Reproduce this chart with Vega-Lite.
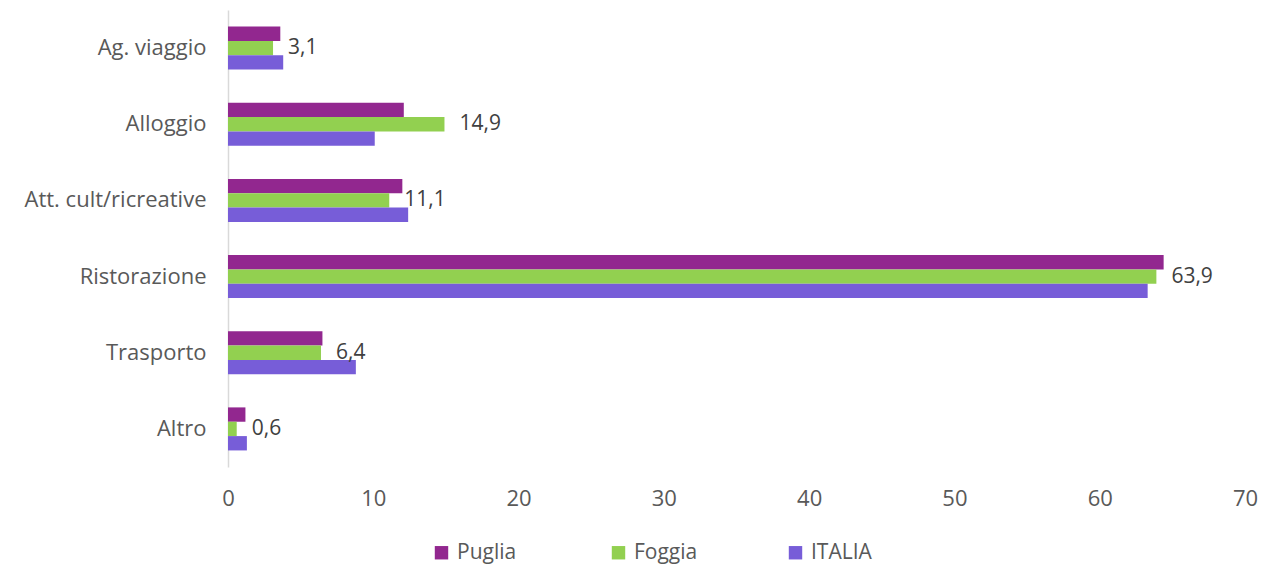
{
  "$schema": "https://vega.github.io/schema/vega-lite/v6.json",
  "autosize": {"type": "none"},
  "padding": {"left": 228, "top": 10, "right": 18, "bottom": 98},
  "width": 1017,
  "height": 457,
  "background": "white",
  "config": {
    "locale": {"number": {"decimal": ",", "thousands": ".", "grouping": [3], "currency": ["€", ""]}},
    "font": "Open Sans",
    "view": {"stroke": null}
  },
  "data": {
    "values": [
      {"cat": "Ag. viaggio", "serie": "Puglia", "v": 3.6},
      {"cat": "Ag. viaggio", "serie": "Foggia", "v": 3.1},
      {"cat": "Ag. viaggio", "serie": "ITALIA", "v": 3.8},
      {"cat": "Alloggio", "serie": "Puglia", "v": 12.1},
      {"cat": "Alloggio", "serie": "Foggia", "v": 14.9},
      {"cat": "Alloggio", "serie": "ITALIA", "v": 10.1},
      {"cat": "Att. cult/ricreative", "serie": "Puglia", "v": 12.0},
      {"cat": "Att. cult/ricreative", "serie": "Foggia", "v": 11.1},
      {"cat": "Att. cult/ricreative", "serie": "ITALIA", "v": 12.4},
      {"cat": "Ristorazione", "serie": "Puglia", "v": 64.4},
      {"cat": "Ristorazione", "serie": "Foggia", "v": 63.9},
      {"cat": "Ristorazione", "serie": "ITALIA", "v": 63.3},
      {"cat": "Trasporto", "serie": "Puglia", "v": 6.5},
      {"cat": "Trasporto", "serie": "Foggia", "v": 6.4},
      {"cat": "Trasporto", "serie": "ITALIA", "v": 8.8},
      {"cat": "Altro", "serie": "Puglia", "v": 1.2},
      {"cat": "Altro", "serie": "Foggia", "v": 0.6},
      {"cat": "Altro", "serie": "ITALIA", "v": 1.3}
    ]
  },
  "encoding": {
    "y": {
      "field": "cat", "type": "nominal",
      "sort": ["Ag. viaggio", "Alloggio", "Att. cult/ricreative", "Ristorazione", "Trasporto", "Altro"],
      "scale": {"paddingInner": 0.435, "paddingOuter": 0.2175},
      "axis": {
        "title": null, "ticks": false, "domainColor": "#D9D9D9", "domainWidth": 1.5,
        "labelFontSize": 22, "labelColor": "#595959", "labelPadding": 22, "labelLimit": 300
      }
    },
    "x": {
      "field": "v", "type": "quantitative",
      "scale": {"domain": [0, 70], "nice": false},
      "axis": {
        "title": null, "ticks": false, "domain": false, "grid": false,
        "values": [0, 10, 20, 30, 40, 50, 60, 70],
        "labelFlush": false, "labelOverlap": false,
        "labelFontSize": 22, "labelColor": "#595959", "labelPadding": 21, "format": "d"
      }
    }
  },
  "layer": [
    {
      "mark": {"type": "bar"},
      "encoding": {
        "yOffset": {"field": "serie", "type": "nominal", "sort": ["Puglia", "Foggia", "ITALIA"]},
        "color": {
          "field": "serie", "type": "nominal", "sort": ["Puglia", "Foggia", "ITALIA"],
          "scale": {"domain": ["Puglia", "Foggia", "ITALIA"], "range": ["#92278F", "#92D050", "#775DD8"]},
          "legend": {
            "title": null, "orient": "none", "direction": "horizontal",
            "legendX": 203, "legendY": 532,
            "symbolType": "square", "symbolSize": 180, "symbolStrokeWidth": 0,
            "labelFontSize": 21, "labelColor": "#595959", "labelOffset": 5,
            "columns": 3, "gridAlign": "all", "columnPadding": 87, "symbolOffset": 0
          }
        }
      }
    },
    {
      "transform": [{"filter": "datum.serie === 'Foggia'"}],
      "mark": {"type": "text", "align": "left", "baseline": "middle", "dx": 15, "fontSize": 21, "color": "#404040"},
      "encoding": {
        "text": {"field": "v", "type": "quantitative", "format": ".1f"}
      }
    }
  ]
}
